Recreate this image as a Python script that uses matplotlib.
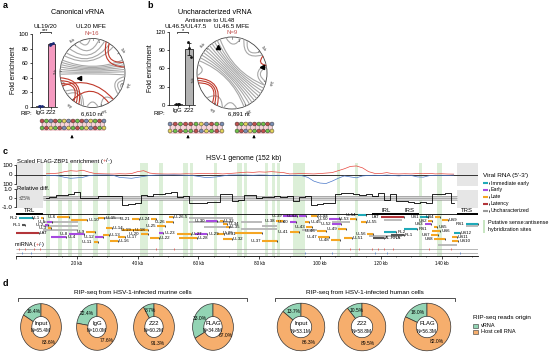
import numpy as np
import matplotlib
matplotlib.use("Agg")
import matplotlib.pyplot as plt
from matplotlib.path import Path
from matplotlib.patches import PathPatch, Rectangle, Ellipse

plt.rcParams['font.family'] = ['Liberation Sans', 'DejaVu Sans']
plt.rcParams['axes.linewidth'] = 0.5

W, H = 553, 358

# ---------------- panel a / b : RIP-qPCR fold enrichment
rip_groups = ['IgG', 'Z22']
ul20_fold = [[1.3, 0.9, 1.1], [85.5, 86.4, 87.2]]
ul465_fold = [[1.6, 0.9, 1.2], [104.0, 93.0, 79.0]]

# MFE structure arcs, degrees clockwise from the 5' end (top)
ul20_gray = [(292, 68), (288, 72), (284, 76), (280, 80), (276, 84), (272, 88), (268, 93),
             (300, 40), (306, 32), (315, 22), (326, 12), (336, 356), (96, 128), (102, 122),
             (140, 165), (196, 238), (200, 232), (246, 256), (108, 116), (170, 190)]
ul20_red = [(25, 80), (31, 72), (205, 262), (210, 257), (215, 252), (150, 218), (248, 140)]
ul465_gray = [(300, 150), (305, 145), (310, 140), (315, 135), (320, 130), (325, 125), (330, 120),
              (335, 115), (295, 156), (290, 160), (20, 60), (26, 54), (75, 110), (80, 104),
              (350, 15), (196, 226), (172, 194), (266, 284), (340, 110)]
ul465_red = [(262, 205), (258, 210), (254, 214), (62, 78)]
ul20_len = 6610
ul465_len = 6891

# helix ladders (top strand, bottom strand)
ladder_a = ('GCAGCUAGCGAUCGA', 'CGUCGAUCGCUAGCU')
ladder_b1 = ('AGCGGCUAGCA', 'UCGCCGAUCGU')
ladder_b2 = ('GCUAGCCGA', 'CGAUCGGCU')

# ---------------- panel c : genome tracks
kb_bins = list(range(10, 146, 2))
enrich_pos = [8, 10, 15, 30, 40, 35, 45, 25, 10, 8,
              6, 5, 8, 6, 10, 30, 40, 15, 8, 6,
              5, 6, 5, 8, 6, 10, 12, 8, 10, 6,
              10, 15, 20, 25, 22, 28, 25, 30, 25, 20,
              6, 8, 10, 8, 6, 10, 15, 20, 40, 60,
              85, 90, 70, 30, 12, 10, 20, 8, 6, 8,
              6, 10, 8, 12, 6, 8, 5, 4]
enrich_neg = [-10, -10, -15, -30, -40, -35, -30, -12, -6, -5,
              -5, -8, -30, -35, -40, -30, -20, -10, -6, -5,
              -5, -4, -6, -8, -10, -20, -30, -30, -25, -15,
              -6, -5, -5, -6, -8, -5, -6, -10, -8, -10,
              -10, -8, -12, -30, -70, -90, -95, -70, -40, -15,
              -25, -35, -15, -10, -8, -10, -6, -10, -15, -8,
              -10, -25, -28, -12, -10, -8, -10, -6]
rel_diff = [0.0, 0.1, 0.3, 0.3, 0.5, 0.7, 0.0, -0.05, 0.0, 0.2,
            0.2, 0.25, 0.2, -0.8, -0.7, -0.6, 0.3, 0.2, 0.4, 0.5,
            0.6, 0.7, 0.1, 0.2, -0.6, -0.5, -0.55, -0.45, -0.4, 0.4,
            0.5, -0.3, -0.2, 0.3, 0.35, 0.05, 0.15, 0.1, 0.2, 0.15,
            0.2, -0.3, 0.1, 0.2, -0.8, -0.65, -0.6, -0.55, 0.4, 0.55,
            0.6, 0.5, 0.3, 0.5, 0.2, 0.6, -0.2, 0.5, -0.3, -0.35,
            -0.4, -0.5, -0.45, -0.5, 0.4, 0.5, 0.6, -0.5]
hybrid_sites = [(10, 11.2), (13.9, 15.1), (17.2, 18.4), (20.5, 21.7), (25.4, 27.1), (29.8, 31),
                (40.8, 43.5), (47, 48.4), (55, 56.7), (57.3, 58.3), (65, 66), (72.6, 74.3),
                (75, 76), (81.9, 83), (84.2, 85.2), (86, 87), (91, 95), (105.5, 106.6),
                (111.6, 112.6), (132.5, 133.5), (138.5, 140)]
repeats = [('TRL', 0, 9), ('IRL', 117, 126.5), ('IRS', 126.5, 132.5), ('TRS', 145, 152)]
mirna_plus = [1, 3, 6, 8, 46, 52, 110, 113, 117, 119, 121, 124, 136, 143]
mirna_minus = [2, 5, 95, 104, 118, 122, 146]

# name, start kb, end kb, class, lane (px row), [label side]
genes = [
    ('RL2', 1.0, 5.5, 'IE', 218), ('RL1', 2.0, 3.0, 'U', 225), ('LAT', 0.0, 7.5, 'LAT', 233, 'r'),
    ('UL1', 8.3, 9.0, 'L', 218), ('UL2', 9.5, 10.5, 'E', 225), ('UL3', 10.5, 11.5, 'L', 228),
    ('UL4', 11.5, 16.5, 'E', 237, 'r'), ('UL5', 10.2, 12.0, 'E', 221.5), ('UL6', 13.5, 17.5, 'L', 217),
    ('UL8', 17.5, 22.5, 'E', 234), ('UL9', 23.0, 26.0, 'L', 232), ('UL10', 18.0, 23.5, 'L', 220, 'r'),
    ('UL11', 25.5, 27.0, 'L', 242), ('UL12', 26.0, 28.5, 'E', 237), ('UL13', 28.5, 30.5, 'L', 234.5, 'r'),
    ('UL14', 29.5, 31.5, 'L', 227.5, 'r'), ('UL15', 27.0, 29.0, 'L', 218, 'r'), ('UL16', 31.0, 33.5, 'L', 241, 'r'),
    ('UL17', 33.5, 36.0, 'L', 237, 'r'), ('UL18', 35.0, 38.5, 'L', 230, 'r'), ('UL19', 38.5, 43.5, 'L', 230),
    ('UL20', 41.0, 43.5, 'L', 234), ('UL21', 38.0, 40.5, 'L', 219), ('UL22', 44.0, 47.0, 'L', 238, 'r'),
    ('UL23', 47.0, 48.5, 'E', 233, 'r'), ('UL24', 44.5, 46.0, 'L', 219), ('UL25', 46.5, 49.0, 'L', 226),
    ('UL26', 49.5, 51.5, 'L', 222), ('UL26.5', 50.5, 51.5, 'L', 217, 'r'), ('UL27', 53.0, 57.5, 'L', 234, 'r'),
    ('UL28', 53.5, 59.5, 'L', 238, 'r'), ('UL29', 59.0, 63.0, 'E', 234, 'r'), ('UL30', 62.5, 66.0, 'E', 221),
    ('UL31', 66.0, 68.5, 'L', 233.5, 'r'), ('UL32', 68.0, 71.0, 'L', 238.5, 'r'), ('UL33', 67.0, 68.0, 'L', 221, 'r'),
    ('UL34', 68.0, 69.5, 'L', 223.8, 'r'), ('UL35', 69.0, 70.0, 'L', 226.5, 'r'), ('UL36', 72.0, 81.0, 'L', 233),
    ('UL37', 81.0, 86.0, 'L', 241), ('UL38', 85.5, 88.0, 'L', 221), ('UL39', 88.0, 92.5, 'E', 216),
    ('UL40', 90.0, 92.0, 'E', 222), ('UL41', 90.0, 93.0, 'L', 232), ('UL42', 93.0, 95.5, 'E', 216),
    ('UL43', 95.5, 97.5, 'L', 227), ('UL44', 97.0, 99.0, 'L', 216, 'r'), ('UL45', 95.0, 96.5, 'L', 222, 'r'),
    ('UL46', 99.0, 102.0, 'L', 231), ('UL47', 99.5, 103.0, 'L', 237), ('UL48', 103.5, 106.5, 'L', 240),
    ('UL49', 106.0, 108.5, 'L', 229), ('UL50', 103.0, 106.5, 'E', 219), ('UL51', 108.0, 110.5, 'L', 238, 'r'),
    ('UL52', 104.0, 107.0, 'E', 224), ('UL53', 110.0, 112.0, 'L', 219), ('UL54', 112.5, 115.0, 'IE', 215),
    ('UL55', 113.5, 115.0, 'L', 222, 'r'), ('UL56', 115.5, 117.5, 'L', 234), ('LAT', 120.0, 127.5, 'LAT', 217),
    ('RL2', 121.0, 125.0, 'IE', 232, 'r'), ('AL-RNA', 117.5, 121.0, 'U', 238, 'r'), ('RL1', 123.5, 127.5, 'U', 235, 'r'),
    ('RS1', 127.5, 132.0, 'IE', 229, 'r'), ('US1', 133.0, 135.5, 'IE', 217), ('US2', 135.5, 137.0, 'L', 221),
    ('US3', 134.5, 136.5, 'E', 224), ('US4', 138.0, 139.5, 'L', 217), ('US5', 137.5, 138.5, 'L', 227, 'r'),
    ('US6', 137.0, 139.5, 'L', 231, 'r'), ('US7', 136.5, 139.0, 'L', 235), ('US8', 137.5, 141.0, 'L', 239),
    ('US9', 140.0, 142.0, 'L', 220, 'r'), ('US10', 143.5, 145.5, 'L', 241, 'r'), ('US11', 143.5, 145.0, 'L', 237, 'r'),
    ('US12', 144.0, 146.0, 'IE', 233, 'r'), ('RS1', 148.0, 152.0, 'IE', 224),
]
tx_gray = [(9.0, 20.5, 222), (9.0, 20.5, 226), (9.0, 20.5, 230), (27.0, 35.0, 218), (57.0, 71.5, 218),
           (57.0, 71.5, 222), (62.0, 71.0, 227), (74.0, 81.0, 222), (81.0, 86.0, 226), (74.0, 86.0, 229),
           (94.0, 99.0, 230), (104.0, 110.0, 222), (116.0, 127.0, 236), (121.0, 127.0, 220),
           (139.0, 145.0, 245), (148.0, 152.0, 226)]

# ---------------- panel d : RIP-seq read origin
murine_samples = ['Input', 'IgG', 'Z22', 'FLAG']
murine_reads = ['65.4M', '10.0M', '60.2M', '34.8M']
murine_vrna = [16.4, 22.4, 8.7, 33.0]
human_samples = ['Input', 'Z22', 'FLAG']
human_reads = ['53.1M', '58.8M', '56.3M']
human_vrna = [13.7, 10.5, 18.0]

cls_color = {'IE': '#1fa9b8', 'E': '#a64be0', 'L': '#f5a623', 'LAT': '#b3353a', 'U': '#555555'}
cls_label = {'IE': 'Immediate early', 'E': 'Early', 'L': 'Late', 'LAT': 'Latency', 'U': 'Uncharacterized'}
nt_colors = {'G': '#c0504d', 'C': '#6fbf4a', 'A': '#7b8fb5', 'U': '#e3d35a'}
RED, BLUE = '#e8453c', '#4a78c9'
VRNA, HOST = '#93d4b4', '#f6ae6d'
BAND = '#dcefd8'

fig = plt.figure(figsize=(W / 100, H / 100), dpi=100)


def add_ax(x0, y0, x1, y1):
    return fig.add_axes([x0 / W, 1 - y1 / H, (x1 - x0) / W, (y1 - y0) / H])


def bar_panel(box, data, color, dotc, ymax, step):
    ax = add_ax(*box)
    ax.set_facecolor('none')
    x = np.arange(len(data))
    means = [np.mean(d) for d in data]
    sds = [np.std(d) for d in data]
    ax.bar(x, means, width=0.7, color=['white', color], edgecolor='black', lw=0.5, zorder=2)
    ax.errorbar(x, means, yerr=sds, fmt='none', ecolor='black', elinewidth=0.5, capsize=1.2, capthick=0.5, zorder=3)
    for i, d in enumerate(data):
        ax.scatter(i + np.array([-0.12, 0.0, 0.12]), d, s=4, color=dotc, zorder=4, lw=0)
    ax.set_xlim(-0.75, 1.5)
    ax.set_ylim(0, ymax)
    ax.set_yticks(np.arange(0, ymax + 1, step))
    ax.set_xticks(x, rip_groups)
    ax.tick_params(labelsize=4.3, length=1.5, width=0.5, pad=1)
    ax.spines[['top', 'right']].set_visible(False)
    ax.set_ylabel('Fold enrichment', fontsize=4.8, labelpad=1)
    return ax


bar_panel((32, 34, 57, 107), ul20_fold, '#f59ac0', '#1b2a78', 100, 20)
bar_panel((169, 32, 195, 105), ul465_fold, '#b3b3b3', '#111111', 120, 30)

# ---------------- panel c axes
x0c, x1c = 16, 478
bg = add_ax(x0c, 163, x1c, 256)
bg.set_xlim(0, 152)
bg.set_ylim(256, 163)
bg.set_facecolor('none')
for s in ['top', 'right', 'left']:
    bg.spines[s].set_visible(False)
bg.spines['bottom'].set_linewidth(0.6)
bg.set_yticks([])
bg.set_xticks(range(0, 141, 20), [''] + ['%d kb' % k for k in range(20, 141, 20)])
bg.set_xticks(range(0, 153, 5), minor=True)
bg.tick_params(axis='x', labelsize=3.3, length=2, width=0.5, pad=1.5)
bg.tick_params(axis='x', which='minor', length=1, width=0.4)
for s, e in hybrid_sites:
    bg.axvspan(s, e, color=BAND, lw=0, zorder=0)
bg.add_patch(Rectangle((0, 163), 9, 45, color='#e6e6e6', lw=0, zorder=0.5))
bg.add_patch(Rectangle((145, 163), 7, 23, color='#e6e6e6', lw=0, zorder=0.5))
bg.add_patch(Rectangle((145, 190), 7, 18, color='#e6e6e6', lw=0, zorder=0.5))
bg.hlines(214, 0, 152, color='black', lw=0.6)
for name, s, e in repeats:
    bg.hlines(213.5, s, e, color='black', lw=1.4)
    bg.text((s + e) / 2, 210.5, name, fontsize=4.3, ha='center', va='center')
for s, e, y in tx_gray:
    bg.hlines(y, s, e, color='#b5b5b5', lw=1.3, zorder=1)
for g in genes:
    name, s, e, c, y = g[:5]
    side = g[5] if len(g) > 5 else 'l'
    bg.hlines(y, s, e, color=cls_color[c], lw=1.5, zorder=2)
    bg.plot([e], [y], marker='|', ms=2, mew=0.5, color='black', zorder=3)
    if side == 'l':
        bg.text(s - 0.4, y, name, fontsize=3.2, ha='right', va='center', zorder=4)
    else:
        bg.text(e + 0.4, y, name, fontsize=3.2, ha='left', va='center', zorder=4)
bg.hlines([249, 252.5], 0, 152, color='#9a9a9a', lw=0.5)
bg.vlines(mirna_plus, 248, 250, color=RED, lw=0.5)
bg.vlines(mirna_minus, 251.5, 253.5, color=BLUE, lw=0.5)

ax_e = add_ax(x0c, 165, x1c, 184)
ax_e.set_facecolor('none')
ax_e.set_xlim(0, 152)
ax_e.set_ylim(-100, 100)
ax_e.axhline(0, color='#333333', lw=0.7)
ax_e.plot(kb_bins, enrich_pos, color=RED, lw=0.5)
ax_e.plot(kb_bins, enrich_neg, color=BLUE, lw=0.5)
ax_e.set_yticks([100, 0, -100], ['100', '0', '100'])
ax_e.set_xticks([])
for s in ['top', 'right', 'bottom']:
    ax_e.spines[s].set_visible(False)
ax_e.tick_params(labelsize=4.5, length=1.5, width=0.5, pad=1)

ax_r = add_ax(x0c, 189, x1c, 207)
ax_r.set_facecolor('none')
ax_r.set_xlim(0, 152)
ax_r.set_ylim(-1, 1)
ax_r.axhspan(-0.25, 0.25, xmin=9 / 152, xmax=145 / 152, color='#d6d6d6', lw=0)
ax_r.hlines([-0.25, 0, 0.25], 9, 145, color='#8a8a8a', lw=0.4)
ax_r.plot(kb_bins, rel_diff, color='black', lw=0.6, drawstyle='steps-mid')
ax_r.set_yticks([1, 0, -1], ['1.0', '0', '-1.0'])
ax_r.set_xticks([])
for s in ['top', 'right', 'bottom']:
    ax_r.spines[s].set_visible(False)
ax_r.tick_params(labelsize=4.5, length=1.5, width=0.5, pad=1)


# ---------------- panel d donuts
def donut(cx, cy, rx, ry, pct, name, reads):
    ax = add_ax(cx - rx, cy - ry, cx + rx, cy + ry)
    ax.pie([pct, 100 - pct], colors=[VRNA, HOST], startangle=90, counterclock=True,
           wedgeprops=dict(width=0.55, edgecolor='#333333', linewidth=0.5),
           autopct='%.1f%%', pctdistance=0.74, textprops=dict(fontsize=3.6))
    ax.set_xlim(-1.03, 1.03)
    ax.set_ylim(-1.03, 1.03)
    ax.set_aspect('auto')
    ax.text(0, 0.13, name, ha='center', va='center', fontsize=4.3)
    ax.text(0, -0.17, 'N=' + reads, ha='center', va='center', fontsize=3.5)


for cx, n, r, p in zip([41, 97, 154, 213], murine_samples, murine_reads, murine_vrna):
    donut(cx, 327, 21, 24, p, n, r)
for cx, n, r, p in zip([301, 362, 427], human_samples, human_reads, human_vrna):
    donut(cx, 327, 24.5, 24.5, p, n, r)

# ---------------- overlay: text, structures, brackets
ov = fig.add_axes([0, 0, 1, 1])
ov.set_xlim(0, W)
ov.set_ylim(H, 0)
ov.axis('off')


def arc_circle(cx, cy, rx, ry, gray, red, length):
    ov.add_patch(Ellipse((cx, cy), 2 * rx, 2 * ry, fill=False, lw=0.6, ec='#444444'))
    for arcs, col, lw in [(gray, '#a8a8a8', 0.8), (red, '#c0392b', 0.8)]:
        for a1, a2 in arcs:
            t1, t2 = np.radians(a1), np.radians(a2)
            p1 = np.array([np.sin(t1), -np.cos(t1)])
            p2 = np.array([np.sin(t2), -np.cos(t2)])
            d = np.arccos(np.clip(p1 @ p2, -1, 1))
            mid = p1 + p2
            mid = mid / np.linalg.norm(mid)
            cr = 2 * np.tan(np.pi / 4 - d / 4) - np.cos(d / 2)
            ctrl = mid * cr
            verts = [(cx + rx * p[0], cy + ry * p[1]) for p in [p1, ctrl, p2]]
            ov.add_patch(PathPatch(Path(verts, [Path.MOVETO, Path.CURVE3, Path.CURVE3]),
                                   fill=False, ec=col, lw=lw))
    for k in range(0, length // 1000 + 1):
        th = np.radians(360 * k * 1000 / length)
        ux, uy = np.sin(th), -np.cos(th)
        ov.plot([cx + rx * ux, cx + rx * 0.95 * ux], [cy + ry * uy, cy + ry * 0.95 * uy], color='#444444', lw=0.4)
        if k == 0:
            ov.text(cx + rx * 0.2, cy - ry * 0.9, '1', fontsize=2.8, ha='center', va='center', color='#333333')
        else:
            ov.text(cx + rx * 1.12 * ux, cy + ry * 1.12 * uy, '%dkb' % k, fontsize=2.6, ha='center', va='center',
                    rotation=-np.degrees(th), color='#333333')


arc_circle(92.5, 73, 32.5, 34.5, ul20_gray, ul20_red, ul20_len)
arc_circle(232, 73, 35, 36, ul465_gray, ul465_red, ul465_len)


def ladder(x0, x1, ytop, ybot, seqs, bgpatch=True):
    top, bot = seqs
    xs = np.linspace(x0, x1, len(top))
    if bgpatch:
        ov.add_patch(Rectangle((x0 - 1, ytop - 2.5), x1 - x0 + 2, ybot - ytop + 5, color='#f8d3d8', lw=0))
    ov.vlines(xs, ytop, ybot, color='#888888', lw=0.4)
    ov.plot(xs, [ytop] * len(xs), color='#666666', lw=0.4)
    ov.plot(xs, [ybot] * len(xs), color='#666666', lw=0.4)
    ov.scatter(xs, [ytop] * len(xs), c=[nt_colors[c] for c in top], s=8, edgecolors='#333333', linewidths=0.3, zorder=3)
    ov.scatter(xs, [ybot] * len(xs), c=[nt_colors[c] for c in bot], s=8, edgecolors='#333333', linewidths=0.3, zorder=3)


ladder(42, 104, 121, 128, ladder_a)
ladder(170, 222, 124, 131, ladder_b1)
ladder(237, 272, 124, 131, ladder_b2)
for ax_x in [72, 188, 254]:
    ov.annotate('', xy=(ax_x, 132), xytext=(ax_x, 140),
                arrowprops=dict(arrowstyle='-|>', lw=0.6, color='black', mutation_scale=4))
ov.plot([79], [78], marker='<', ms=3, color='black')
ov.plot([218], [47], marker='^', ms=3, color='black')
ov.plot([262], [67], marker='<', ms=3, color='black')


def chain(x, y, parts, fs):
    prev = ov.text(x, y, parts[0][0], color=parts[0][1], fontsize=fs, va='center')
    for s, c in parts[1:]:
        prev = ov.annotate(s, xy=(1, 0), xycoords=prev, va='bottom', ha='left', color=c, fontsize=fs)


t = dict(ha='center', va='center')
ov.text(3, 6, 'a', fontsize=6.5, weight='bold', va='center')
ov.text(147, 6, 'b', fontsize=6.5, weight='bold', va='center')
ov.text(3, 152, 'c', fontsize=6.5, weight='bold', va='center')
ov.text(3, 283, 'd', fontsize=6.5, weight='bold', va='center')
ov.text(78, 13, 'Canonical vRNA', fontsize=5.2, **t)
ov.text(215, 13, 'Uncharacterized vRNA', fontsize=5.2, **t)
ov.text(210, 20, 'Antisense to UL48', fontsize=4.3, **t)
ov.text(45, 26.5, 'UL19/20', fontsize=4.5, **t)
ov.text(186, 26.5, 'UL46.5/UL47.5', fontsize=4.5, **t)
ov.text(91, 27, 'UL20 MFE', fontsize=4.5, **t)
ov.text(232, 26.5, 'UL46.5 MFE', fontsize=4.5, **t)
ov.text(92, 33.5, 'N=16', fontsize=4.3, color='#c0504d', **t)
ov.text(232, 33, 'N=9', fontsize=4.3, color='#c0504d', **t)
ov.text(92, 114, '6,610 nt', fontsize=4.3, **t)
ov.text(239, 114, '6,891 nt', fontsize=4.3, **t)
ov.text(26, 113.5, 'RIP:', fontsize=4.3, **t)
ov.text(159, 113.5, 'RIP:', fontsize=4.3, **t)
for xa, xb, y, star in [(40, 51, 31.5, '***'), (177, 188, 31.5, '*')]:
    ov.plot([xa, xa, xb, xb], [y + 1.2, y, y, y + 1.2], color='black', lw=0.5)
    ov.text((xa + xb) / 2, y - 0.8, star, fontsize=4, **t)

# panel c texts
chain(17, 161, [('Scaled FLAG-ZBP1 enrichment (', 'black'), ('+', RED), ('/', 'black'),
                ('-', BLUE), (')', 'black')], 4.2)
ov.text(244, 159, 'HSV-1 genome (152 kb)', fontsize=5, **t)
ov.text(17, 188, 'Relative diff.', fontsize=4.2, va='center')
ov.text(18.5, 198, '±25%', fontsize=3.4, va='center', color='#444444')
chain(15, 244.5, [('miRNA (', 'black'), ('+', RED), ('/', 'black'), ('-', BLUE), (')', 'black')], 4)

ov.text(483, 175, "Viral RNA (5'-3')", fontsize=4.6, va='center')
for i, c in enumerate(['IE', 'E', 'L', 'LAT', 'U']):
    y = 183 + i * 7
    ov.plot([483, 488], [y, y], color=cls_color[c] if c != 'U' else '#9a9a9a', lw=1.5, solid_capstyle='butt')
    ov.plot([488.5], [y], marker='|', ms=2, mew=0.5, color='black')
    ov.text(491, y, cls_label[c], fontsize=3.8, va='center')
ov.add_patch(Rectangle((483, 220), 2, 13, color='#c8e6c2', lw=0))
ov.text(488, 222.5, 'Putative sense:antisense', fontsize=3.9, va='center')
ov.text(488, 229.5, 'hybridization sites', fontsize=3.9, va='center')

# panel d texts
for xa, xb, label in [(18, 247, 'RIP-seq from HSV-1-infected murine cells'),
                      (275, 455, 'RIP-seq from HSV-1-infected human cells')]:
    ov.plot([xa, xa, xb, xb], [301, 297.5, 297.5, 301], color='#333333', lw=0.6)
    ov.text((xa + xb) / 2, 292.5, label, fontsize=4.6, **t)
ov.text(473, 318, 'RIP-seq reads origin', fontsize=4.6, va='center')
ov.add_patch(Rectangle((473, 323.5), 5, 4, fc=VRNA, ec='#333333', lw=0.4))
ov.add_patch(Rectangle((473, 329.5), 5, 4, fc=HOST, ec='#333333', lw=0.4))
ov.text(481, 325.5, 'vRNA', fontsize=4, va='center')
ov.text(481, 331.5, 'Host cell RNA', fontsize=4, va='center')

fig.savefig('out.png', dpi=100)
